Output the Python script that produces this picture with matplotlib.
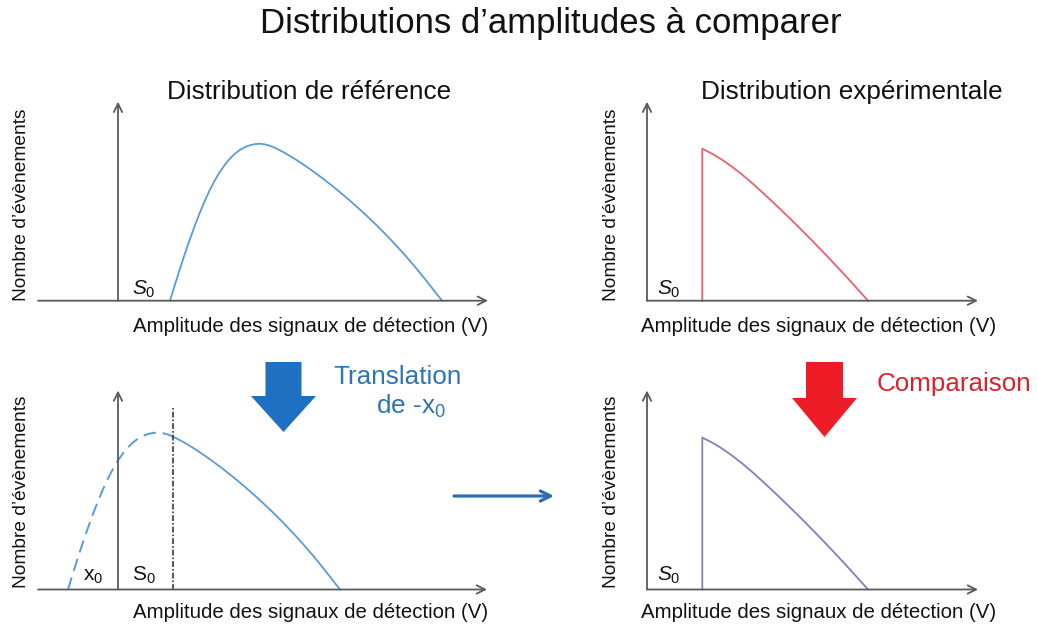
import matplotlib
matplotlib.use("Agg")
import matplotlib.pyplot as plt
from matplotlib.patches import Polygon

plt.rcParams['font.family'] = ['Liberation Sans', 'DejaVu Sans']
plt.rcParams['mathtext.fontset'] = 'custom'
plt.rcParams['mathtext.rm'] = 'Liberation Sans'
plt.rcParams['mathtext.it'] = 'Liberation Sans:italic'
plt.rcParams['mathtext.bf'] = 'Liberation Sans:bold'

# ---------------------------------------------------------------- data
# Reference distribution (amplitude, number of events), arbitrary units
ref_amp = [0.52, 0.57, 0.62, 0.67, 0.72, 0.77, 0.82, 0.87, 0.92, 0.97, 1.02,
           1.07, 1.12, 1.17, 1.22, 1.27, 1.32, 1.37, 1.42, 1.47, 1.52, 1.57,
           1.67, 1.77, 1.87, 1.97, 2.07, 2.17, 2.27, 2.37, 2.47, 2.57, 2.67,
           2.77, 2.87, 2.97, 3.07, 3.17, 3.24]
ref_count = [0.000, 0.163, 0.321, 0.473, 0.618, 0.755, 0.884, 1.003, 1.110,
             1.206, 1.290, 1.362, 1.422, 1.471, 1.508, 1.536, 1.555, 1.566,
             1.570, 1.563, 1.549, 1.529, 1.477, 1.417, 1.351, 1.280, 1.205,
             1.126, 1.043, 0.956, 0.865, 0.770, 0.670, 0.565, 0.455, 0.339,
             0.217, 0.089, 0.000]

# Reference distribution translated by -x0: part below the threshold (dashed)
shift_amp_low = [-0.50, -0.45, -0.40, -0.35, -0.30, -0.25, -0.20, -0.15,
                 -0.10, -0.05, 0.00, 0.05, 0.10, 0.15, 0.20, 0.25, 0.30,
                 0.35, 0.40, 0.45, 0.50, 0.553]
shift_count_low = [0.000, 0.163, 0.321, 0.473, 0.618, 0.755, 0.884, 1.003,
                   1.110, 1.206, 1.290, 1.362, 1.422, 1.471, 1.508, 1.536,
                   1.555, 1.566, 1.570, 1.563, 1.549, 1.527]
# ... and part above the threshold (solid)
shift_amp_high = [0.553, 0.65, 0.75, 0.85, 0.95, 1.05, 1.15, 1.25, 1.35,
                  1.45, 1.55, 1.65, 1.75, 1.85, 1.95, 2.05, 2.15, 2.22]
shift_count_high = [1.527, 1.477, 1.417, 1.351, 1.280, 1.205, 1.126, 1.043,
                    0.956, 0.865, 0.770, 0.670, 0.565, 0.455, 0.339, 0.217,
                    0.089, 0.000]

# Experimental distribution (cut at the threshold S0)
exp_amp = [0.553, 0.553, 0.65, 0.75, 0.85, 0.95, 1.05, 1.15, 1.25, 1.35,
           1.45, 1.55, 1.65, 1.75, 1.85, 1.95, 2.05, 2.15, 2.21]
exp_count = [0.000, 1.520, 1.470, 1.410, 1.340, 1.262, 1.177, 1.087, 0.994,
             0.899, 0.802, 0.703, 0.602, 0.499, 0.394, 0.287, 0.178, 0.067,
             0.000]

S0 = 0.553           # detection threshold
S0_MARK_TOP = 1.815  # height of the threshold marker line

# ---------------------------------------------------------------- style
W, H, DPI = 1037, 627, 100
PX = 100  # pixels per unit in every panel
AXIS_C = '#5a5a5a'
REF_C = '#5b9bd5'
EXP_C = '#e8606e'
CMP_C = '#8a7cba'
BLUE = '#1f6fc2'
BLUE_TXT = '#2e74b5'
RED = '#ee1c25'
RED_TXT = '#d8232c'

fig = plt.figure(figsize=(W / DPI, H / DPI), dpi=DPI)
fig.patch.set_facecolor('white')

# overlay in pixel units for titles, captions and process arrows
ov = fig.add_axes([0, 0, 1, 1])
ov.set_xlim(0, W)
ov.set_ylim(H, 0)
ov.axis('off')


def panel(ox, oy, xa, xb, ytop):
    """Axes whose (0, 0) sits at pixel (ox, oy), with arrowed axes."""
    pad = 0.15
    left = ox + PX * (xa - pad)
    right = ox + PX * (xb + pad)
    top = oy - PX * (ytop + pad)
    bottom = oy + PX * pad
    ax = fig.add_axes([left / W, 1 - bottom / H, (right - left) / W,
                       (bottom - top) / H])
    ax.set_xlim(xa - pad, xb + pad)
    ax.set_ylim(-pad, ytop + pad)
    ax.axis('off')
    ap = dict(arrowstyle='->', color=AXIS_C, lw=1.3, mutation_scale=15,
              shrinkA=0, shrinkB=0)
    ax.annotate('', xy=(xb, 0), xytext=(xa, 0), arrowprops=ap)
    ax.annotate('', xy=(0, ytop), xytext=(0, 0), arrowprops=ap)
    return ax


XLABEL = 'Amplitude des signaux de détection (V)'
YLABEL = 'Nombre d’évènements'

# top-left: reference distribution
ax1 = panel(118, 300.7, -0.80, 3.70, 1.99)
ax1.plot(ref_amp, ref_count, color=REF_C, lw=1.3)

# top-right: experimental distribution
ax2 = panel(647, 300.7, 0.0, 3.31, 1.99)
ax2.plot(exp_amp, exp_count, color=EXP_C, lw=1.3)

# bottom-left: translated reference distribution
ax3 = panel(118, 589.5, -0.80, 3.69, 1.99)
ax3.plot(shift_amp_low, shift_count_low, color=REF_C, lw=1.4,
         linestyle=(0, (6.5, 3.5)))
ax3.plot(shift_amp_high, shift_count_high, color=REF_C, lw=1.3)
ax3.plot([S0, S0], [0, S0_MARK_TOP], color='#3a3a3a', lw=1.2,
         linestyle=(0, (3.5, 1.2, 1, 1.2)))

# bottom-right: comparison
ax4 = panel(647, 589.5, 0.0, 3.31, 1.99)
ax4.plot(exp_amp, exp_count, color=CMP_C, lw=1.3)

# ---------------------------------------------------------------- texts
ov.text(551, 23, 'Distributions d’amplitudes à comparer', ha='center',
        va='center', fontsize=25, color='#111111')
ov.text(309, 92, 'Distribution de référence', ha='center', va='center',
        fontsize=18.8, color='#111111')
ov.text(852, 92, 'Distribution expérimentale', ha='center', va='center',
        fontsize=18.8, color='#111111')

for cx, cy in [(311, 326), (819, 326), (311, 612), (819, 612)]:
    ov.text(cx, cy, XLABEL, ha='center', va='center', fontsize=14.7,
            color='#111111')
for cx, cy in [(22, 205), (612, 205), (22, 492), (612, 492)]:
    ov.text(cx, cy, YLABEL, ha='center', va='center', rotation=90,
            fontsize=13.8, color='#111111')

ov.text(132, 289, r'$S_0$', ha='left', va='center', fontsize=15,
        color='#111111')
ov.text(657, 289, r'$S_0$', ha='left', va='center', fontsize=15,
        color='#111111')
ov.text(657, 575, r'$S_0$', ha='left', va='center', fontsize=15,
        color='#111111')
ov.text(132, 575, r'S$_0$', ha='left', va='center', fontsize=15,
        color='#111111')
ov.text(83, 576, r'x$_0$', ha='left', va='center', fontsize=15,
        color='#111111')

ov.text(462, 377, 'Translation', ha='right', va='center', fontsize=18.8,
        color=BLUE_TXT)
ov.text(376, 406, r'de -x$_0$', ha='left', va='center', fontsize=18.8,
        color=BLUE_TXT)
ov.text(877, 384, 'Comparaison', ha='left', va='center', fontsize=18.7,
        color=RED_TXT)

# ---------------------------------------------------------------- arrows
def block_arrow(x_mid, top, shaft_half, head_y, head_half, tip, color):
    pts = [(x_mid - shaft_half, top), (x_mid + shaft_half, top),
           (x_mid + shaft_half, head_y), (x_mid + head_half, head_y),
           (x_mid, tip), (x_mid - head_half, head_y),
           (x_mid - shaft_half, head_y)]
    ov.add_patch(Polygon(pts, closed=True, facecolor=color, edgecolor='none'))


block_arrow(283.5, 362, 18, 396, 32.5, 432, BLUE)
block_arrow(824.5, 362, 18.5, 398, 32.5, 437, RED)

ov.annotate('', xy=(554, 496), xytext=(454, 496),
            arrowprops=dict(arrowstyle='->', color='#2e6db4', lw=2.3,
                            mutation_scale=18, shrinkA=0, shrinkB=0))

fig.savefig('out.png', dpi=DPI, facecolor='white')
